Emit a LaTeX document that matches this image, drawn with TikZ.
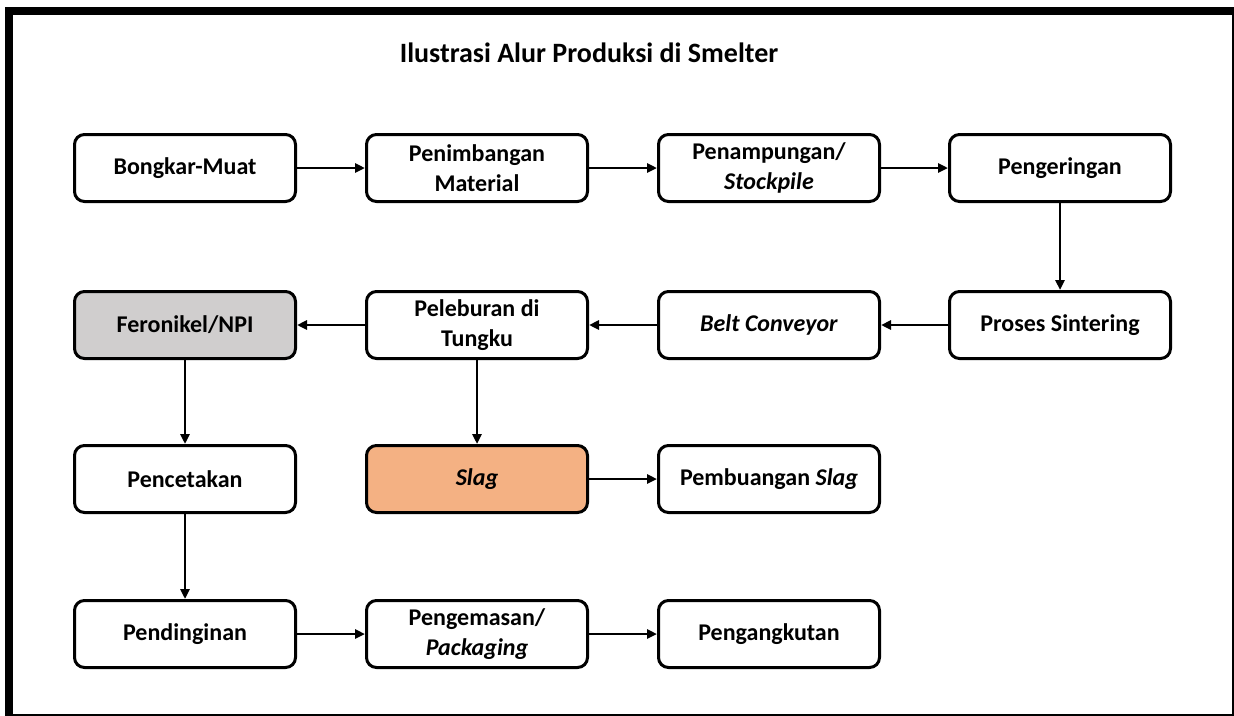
\documentclass[tikz,border=0pt]{standalone}
\usepackage{fontspec}
\setmainfont{Carlito}
\usetikzlibrary{arrows.meta}
\definecolor{grayfill}{RGB}{208,206,206}
\definecolor{slagfill}{RGB}{244,177,131}
\tikzset{
  stepbox/.style={draw=black, line width=3pt, rounded corners=10pt, fill=white,
    minimum width=221pt, minimum height=67pt, align=center,
    font=\bfseries\fontsize{24}{30}\selectfont, inner sep=0pt},
  flow/.style={line width=2.8pt, -{Triangle[length=10pt,width=9pt]}},
}
\begin{document}
\begin{tikzpicture}[x=1pt,y=-1pt]
\useasboundingbox (0,0) rectangle (1234,715);
\fill[white] (0,0) rectangle (1234,715);
\draw[line width=8pt] (9,11) rectangle (1236,718);
\node[font=\bfseries\fontsize{28}{32}\selectfont, anchor=base, inner sep=0pt] (title) at (589,62) {Ilustrasi Alur Produksi di Smelter};
% row 1
\node[stepbox] (bm) at (185,168) {Bongkar-Muat};
\node[stepbox] (pm) at (477,168) {Penimbangan\\Material};
\node[stepbox] (ps) at (769,168) {Penampungan/\\\textit{Stockpile}};
\node[stepbox] (pg) at (1060,168) {Pengeringan};
% row 2
\node[stepbox, fill=grayfill] (fn) at (185,325) {Feronikel/NPI};
\node[stepbox] (pt) at (477,325) {Peleburan di\\Tungku};
\node[stepbox] (bc) at (769,325) {\textit{Belt Conveyor}};
\node[stepbox] (sn) at (1060,325) {Proses Sintering};
% row 3
\node[stepbox] (pc) at (185,479) {Pencetakan};
\node[stepbox, fill=slagfill] (sl) at (477,479) {\textit{Slag}};
\node[stepbox] (pb) at (769,479) {Pembuangan \textit{Slag}};
% row 4
\node[stepbox] (pd) at (185,634) {Pendinginan};
\node[stepbox] (pk) at (477,634) {Pengemasan/\\\textit{Packaging}};
\node[stepbox] (pa) at (769,634) {Pengangkutan};
% connectors
\draw[flow] (bm) -- (pm);
\draw[flow] (pm) -- (ps);
\draw[flow] (ps) -- (pg);
\draw[flow] (pg) -- (sn);
\draw[flow] (sn) -- (bc);
\draw[flow] (bc) -- (pt);
\draw[flow] (pt) -- (fn);
\draw[flow] (fn) -- (pc);
\draw[flow] (pt) -- (sl);
\draw[flow] (sl) -- (pb);
\draw[flow] (pc) -- (pd);
\draw[flow] (pd) -- (pk);
\draw[flow] (pk) -- (pa);
\end{tikzpicture}
\end{document}
